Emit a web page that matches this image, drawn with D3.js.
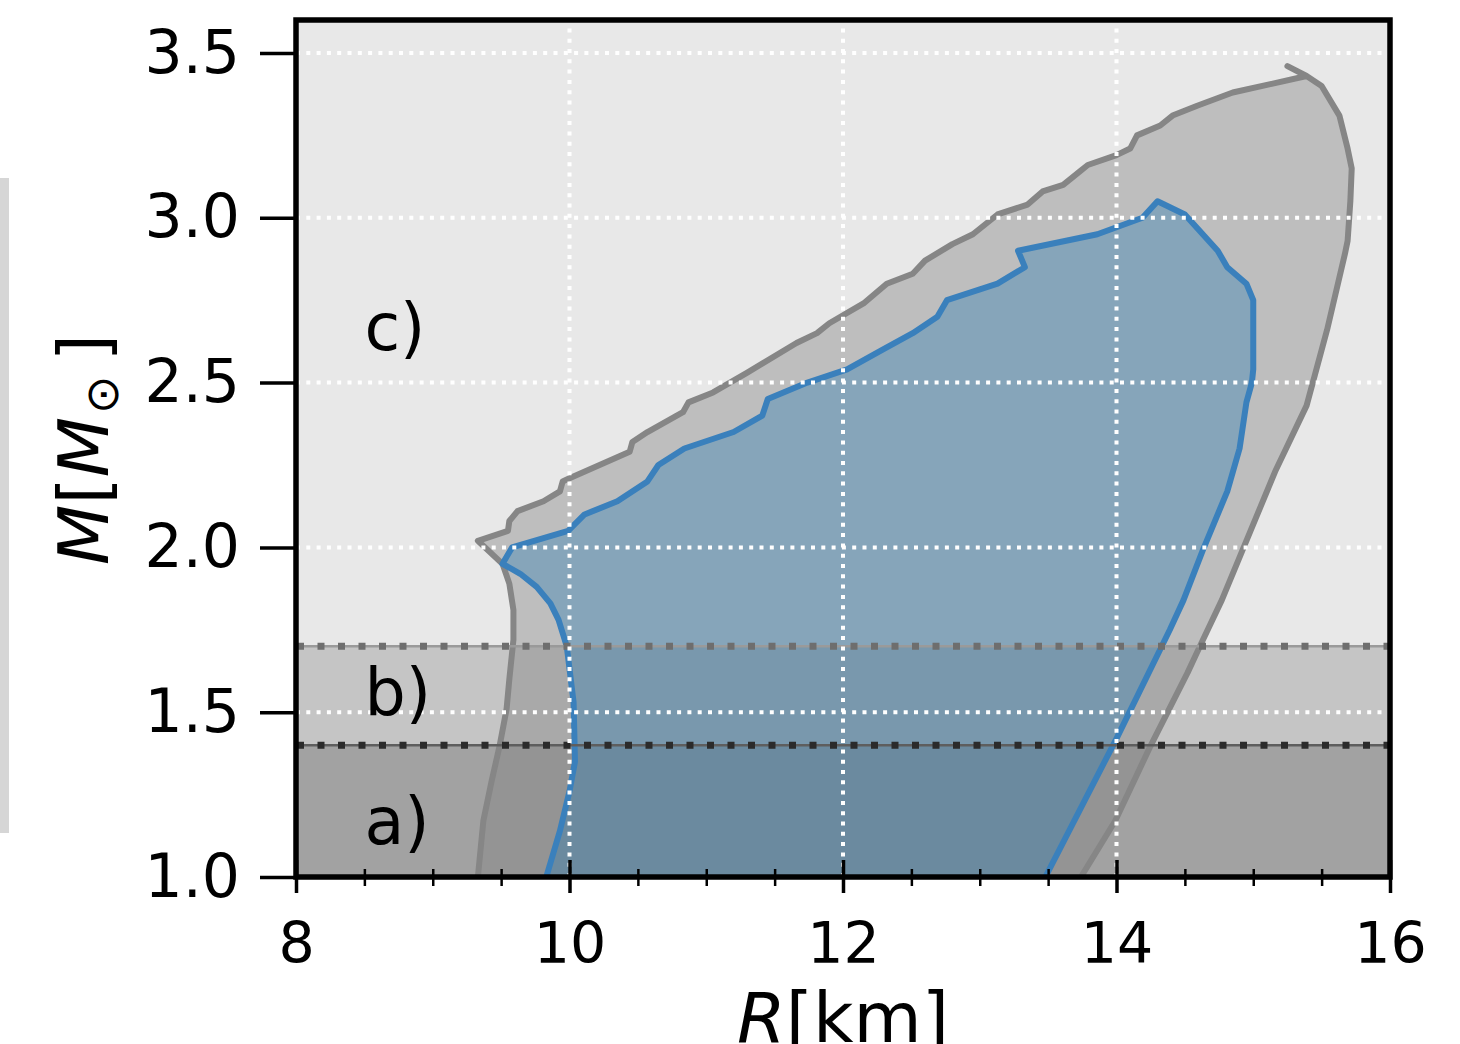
<!DOCTYPE html>
<html>
<head>
<meta charset="utf-8">
<script src="https://cdn.jsdelivr.net/npm/d3@7"></script>
<style>
body { margin: 0; background: #fff; }
svg { display: block; font-family: "DejaVu Sans", sans-serif; }
</style>
</head>
<body>
<svg width="1460" height="1044"></svg>
<script>
const width = 1460;
const height = 1044;

// outer (grey) band of M-R curves: left side up, top edge, right side down
const outerR = [9.33, 9.37, 9.43, 9.49, 9.54, 9.56, 9.59, 9.59, 9.56, 9.51, 9.33,
  9.55, 9.56, 9.62, 9.81, 9.93, 9.95, 10.00, 10.44, 10.46, 10.57, 10.83, 10.87, 11.05,
  11.30, 11.66, 11.81, 11.90, 12.15, 12.32, 12.51, 12.60, 12.80, 12.95, 13.13, 13.35,
  13.46, 13.61, 13.73, 13.79, 14.00, 14.10, 14.15, 14.32, 14.41, 14.59, 14.85, 15.39,
  15.25, 15.39, 15.50, 15.63, 15.69, 15.72, 15.71, 15.69, 15.67, 15.54, 15.39, 15.16,
  14.98, 14.77, 14.61, 14.52, 14.24, 13.99, 13.74];
const outerM = [1.00, 1.17, 1.29, 1.40, 1.51, 1.60, 1.72, 1.81, 1.89, 1.95, 2.02,
  2.05, 2.08, 2.11, 2.14, 2.17, 2.20, 2.21, 2.29, 2.32, 2.35, 2.41, 2.44, 2.47,
  2.53, 2.62, 2.65, 2.68, 2.74, 2.80, 2.83, 2.87, 2.92, 2.95, 3.01, 3.04,
  3.08, 3.10, 3.14, 3.16, 3.19, 3.21, 3.25, 3.28, 3.31, 3.34, 3.38, 3.43,
  3.46, 3.43, 3.40, 3.31, 3.21, 3.15, 3.05, 2.93, 2.89, 2.66, 2.43, 2.23,
  2.05, 1.84, 1.70, 1.62, 1.39, 1.17, 1.00];

// inner (blue) band
const innerR = [9.83, 9.93, 10.00, 10.04, 10.03, 9.98, 9.92, 9.86, 9.76, 9.64, 9.51,
  9.58, 9.99, 10.11, 10.35, 10.57, 10.65, 10.84, 11.20, 11.41, 11.45, 11.74, 12.03,
  12.29, 12.51, 12.69, 12.76, 13.13, 13.33, 13.28, 13.86, 14.19, 14.30, 14.50, 14.74,
  14.81, 14.95, 15.00, 15.00, 14.99, 14.95, 14.90, 14.81, 14.63, 14.49, 14.39, 14.00, 13.48];
const innerM = [1.00, 1.14, 1.26, 1.35, 1.53, 1.70, 1.78, 1.83, 1.88, 1.92, 1.95,
  2.00, 2.05, 2.10, 2.14, 2.20, 2.25, 2.30, 2.35, 2.40, 2.45, 2.50, 2.54,
  2.60, 2.65, 2.70, 2.75, 2.80, 2.85, 2.90, 2.95, 3.00, 3.05, 3.01, 2.90,
  2.85, 2.80, 2.75, 2.54, 2.50, 2.44, 2.30, 2.17, 1.99, 1.84, 1.75, 1.42, 1.00];

// mass bands a) and b)
const bandFrom = [1.0, 1.4];
const bandTo = [1.4, 1.7];
const bandLabels = ["a)", "b)", "c)"];
const labelR = [8.5, 8.5, 8.5];
const labelM = [1.1, 1.49, 2.6];

const xTicks = [8, 10, 12, 14, 16];
const xMinor = [8.5, 9, 9.5, 10.5, 11, 11.5, 12.5, 13, 13.5, 14.5, 15, 15.5];
const yTicks = [1.0, 1.5, 2.0, 2.5, 3.0, 3.5];

const svg = d3.select("svg");

const x = d3.scaleLinear().domain([8, 16]).range([296, 1390]);
const y = d3.scaleLinear().domain([1, 3.6]).range([877, 20]);

// scanner smudge on the left edge of the original
svg.append("rect")
  .attr("x", 0).attr("y", 178)
  .attr("width", 9).attr("height", 655)
  .attr("fill", "#d6d6d6");

svg.append("clipPath").attr("id", "plot")
  .append("rect")
  .attr("x", x(8)).attr("y", y(3.6))
  .attr("width", x(16) - x(8)).attr("height", y(1) - y(3.6));

const plot = svg.append("g").attr("clip-path", "url(#plot)");

plot.append("rect")
  .attr("x", x(8)).attr("y", y(3.6))
  .attr("width", x(16) - x(8)).attr("height", y(1) - y(3.6))
  .attr("fill", "#e8e8e8");

plot.selectAll(".band")
  .data(bandFrom)
  .enter().append("rect")
  .attr("class", "band")
  .attr("x", x(8))
  .attr("y", (d, i) => y(bandTo[i]))
  .attr("width", x(16) - x(8))
  .attr("height", (d, i) => y(d) - y(bandTo[i]))
  .attr("fill", "#000")
  .attr("fill-opacity", (d, i) => i == 0 ? 0.3 : 0.15);

const line = d3.line()
  .x(d => x(d[0]))
  .y(d => y(d[1]));

const outer = d3.zip(outerR, outerM);
const inner = d3.zip(innerR, innerM);

plot.append("path")
  .attr("d", line(outer) + "Z")
  .attr("fill", "#808080")
  .attr("fill-opacity", 0.4)
  .attr("stroke", "none");

plot.append("path")
  .attr("d", line(inner) + "Z")
  .attr("fill", "#1f77b4")
  .attr("fill-opacity", 0.35)
  .attr("stroke", "none");

plot.append("path")
  .attr("d", line(outer))
  .attr("fill", "none")
  .attr("stroke", "#868686")
  .attr("stroke-width", 6)
  .attr("stroke-linejoin", "round")
  .attr("stroke-linecap", "round");

plot.append("path")
  .attr("d", line(inner))
  .attr("fill", "none")
  .attr("stroke", "#3a80bc")
  .attr("stroke-width", 6)
  .attr("stroke-linejoin", "round");

// band edges (thin line + square dots)
const edgeM = [1.4, 1.7];
const edgeLine = ["#5e5e5e", "#9a9a9a"];
const edgeDot = ["#2b2b2b", "#6e6e6e"];
edgeM.forEach((m, i) => {
  plot.append("line")
    .attr("x1", x(8)).attr("x2", x(16))
    .attr("y1", y(m)).attr("y2", y(m))
    .attr("stroke", edgeLine[i]).attr("stroke-width", 2.5);
  plot.append("line")
    .attr("x1", x(8)).attr("x2", x(16))
    .attr("y1", y(m)).attr("y2", y(m))
    .attr("stroke", edgeDot[i]).attr("stroke-width", 7)
    .attr("stroke-dasharray", "7,13.5")
    .attr("stroke-dashoffset", -1);
});

// grid
plot.selectAll(".vgrid")
  .data(xTicks)
  .enter().append("line")
  .attr("class", "vgrid")
  .attr("x1", d => x(d)).attr("x2", d => x(d))
  .attr("y1", y(1)).attr("y2", y(3.6))
  .attr("stroke", "#fff").attr("stroke-width", 4)
  .attr("stroke-dasharray", "4,6.3");

plot.selectAll(".hgrid")
  .data(yTicks)
  .enter().append("line")
  .attr("class", "hgrid")
  .attr("x1", x(8)).attr("x2", x(16))
  .attr("y1", d => y(d)).attr("y2", d => y(d))
  .attr("stroke", "#fff").attr("stroke-width", 4)
  .attr("stroke-dasharray", "4,6.3");

// labels a) b) c)
svg.selectAll(".lab")
  .data(bandLabels)
  .enter().append("text")
  .attr("class", "lab")
  .attr("x", (d, i) => x(labelR[i]))
  .attr("y", (d, i) => y(labelM[i]))
  .attr("font-size", 65)
  .attr("fill", "#000")
  .text(d => d);

// spines
svg.append("rect")
  .attr("x", x(8)).attr("y", y(3.6))
  .attr("width", x(16) - x(8)).attr("height", y(1) - y(3.6))
  .attr("fill", "none")
  .attr("stroke", "#000").attr("stroke-width", 5.5);

// x axis
const xAxis = svg.append("g")
  .attr("transform", `translate(0,${y(1)})`)
  .call(d3.axisBottom(x).tickValues(xTicks).tickSize(16).tickPadding(30).tickFormat(d3.format("d")));
xAxis.select(".domain").remove();
xAxis.selectAll(".tick line").attr("y1", -17).attr("stroke-width", 3.5);
xAxis.selectAll("text").attr("font-size", 57).attr("font-family", "DejaVu Sans").attr("fill", "#000");

const xMinorAxis = svg.append("g")
  .attr("transform", `translate(0,${y(1)})`)
  .call(d3.axisBottom(x).tickValues(xMinor).tickSize(9).tickFormat(""));
xMinorAxis.select(".domain").remove();
xMinorAxis.selectAll(".tick line").attr("y1", -8).attr("stroke-width", 2.5);

// y axis
const yAxis = svg.append("g")
  .attr("transform", `translate(${x(8)},0)`)
  .call(d3.axisLeft(y).tickValues(yTicks).tickSize(36).tickPadding(20).tickFormat(d3.format(".1f")));
yAxis.select(".domain").remove();
yAxis.selectAll(".tick line").attr("stroke-width", 3.5);
yAxis.selectAll("text").attr("font-size", 60).attr("font-family", "DejaVu Sans").attr("fill", "#000");

// axis titles
const xt = svg.append("text")
  .attr("x", (x(8) + x(16)) / 2)
  .attr("y", 1042)
  .attr("text-anchor", "middle")
  .attr("font-size", 70);
xt.append("tspan").attr("font-style", "italic").text("R");
xt.append("tspan").text("[km]");

const yt = svg.append("text")
  .attr("transform", "translate(108,565) rotate(-90)")
  .attr("text-anchor", "start")
  .attr("font-size", 70);
yt.append("tspan").attr("font-style", "italic").text("M");
yt.append("tspan").text("[");
yt.append("tspan").attr("font-style", "italic").text("M");
yt.append("tspan").attr("font-size", 46).attr("dy", 10).attr("dx", 3).text("\u2299");
yt.append("tspan").attr("dy", -10).attr("dx", 14).text("]");
</script>
</body>
</html>
